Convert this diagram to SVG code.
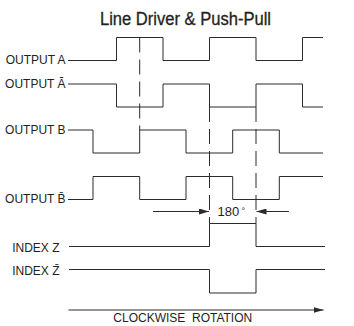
<svg xmlns="http://www.w3.org/2000/svg" width="354" height="326" viewBox="0 0 354 326">
<style>
.sig{fill:none;stroke:#2b2b2b;stroke-width:1}
.dash{fill:none;stroke:#2b2b2b;stroke-width:1;stroke-dasharray:15 7}
.arr{fill:none;stroke:#2b2b2b;stroke-width:1}
.lbl{font-family:"Liberation Sans",Arial,sans-serif;font-size:12px;fill:#231f20}
.title{font-family:"Liberation Sans",Arial,sans-serif;font-size:17.5px;fill:#231f20;stroke:#231f20;stroke-width:0.3}
</style>
<defs>
<marker id="ah" viewBox="0 0 10 6" refX="10" refY="3" markerWidth="10" markerHeight="6" markerUnits="userSpaceOnUse" orient="auto">
<path d="M0,0 L10,3 L0,6 z" fill="#2b2b2b"/>
</marker>
</defs>
<rect width="354" height="326" fill="#ffffff"/>
<text class="title" x="185.5" y="25" text-anchor="middle" textLength="171" lengthAdjust="spacingAndGlyphs">Line Driver &amp; Push-Pull</text>

<g id="outA">
<text class="lbl" x="65.5" y="64" text-anchor="end">OUTPUT A</text>
<path class="sig" d="M68,60.5 H116.5 V37.5 H163 V60.5 H209.5 V37.5 H256 V60.5 H302.5 V37.5 H323"/>
</g>
<g id="outAbar">
<text class="lbl" x="65.5" y="87.5" text-anchor="end">OUTPUT Ā</text>
<path class="sig" d="M68,84 H116.5 V107 H163 V84 H209.5 V107 H256 V84 H302.5 V107 H323"/>
</g>
<g id="outB">
<text class="lbl" x="65.5" y="133.5" text-anchor="end">OUTPUT B</text>
<path class="sig" d="M68,130 H93 V153 H139.7 V130 H186 V153 H232.7 V130 H279.3 V153 H323"/>
</g>
<g id="outBbar">
<text class="lbl" x="65.5" y="203" text-anchor="end">OUTPUT B̄</text>
<path class="sig" d="M68,199.5 H93 V176.5 H139.7 V199.5 H186 V176.5 H232.7 V199.5 H279.3 V176.5 H323"/>
</g>
<g id="indexZ">
<text class="lbl" x="59.5" y="251.5" text-anchor="end">INDEX Z</text>
<path class="sig" d="M69,246.5 H209.5 V223.5 H256 V246.5 H325"/>
</g>
<g id="indexZbar">
<text class="lbl" x="59.5" y="275" text-anchor="end">INDEX Z̄</text>
<path class="sig" d="M69,269.5 H209.5 V293 H256 V269.5 H325"/>
</g>

<g id="connectors">
<path class="dash" d="M139.7,37.5 V130"/>
<path class="dash" d="M209.5,107 V223.5"/>
<path class="dash" d="M256,107 V223.5"/>
<path class="arr" d="M153,211.5 H209" marker-end="url(#ah)"/>
<path class="arr" d="M289,211.5 H256.5" marker-end="url(#ah)"/>
<path class="arr" d="M68.5,310 H323.5" marker-end="url(#ah)"/>
</g>
<text class="lbl" x="217.5" y="216" style="font-size:13px">180<tspan x="241.5" y="213.5" style="font-size:9px">°</tspan></text>
<text class="lbl" x="113.3" y="321.5" xml:space="preserve">CLOCKWISE  ROTATION</text>
</svg>
